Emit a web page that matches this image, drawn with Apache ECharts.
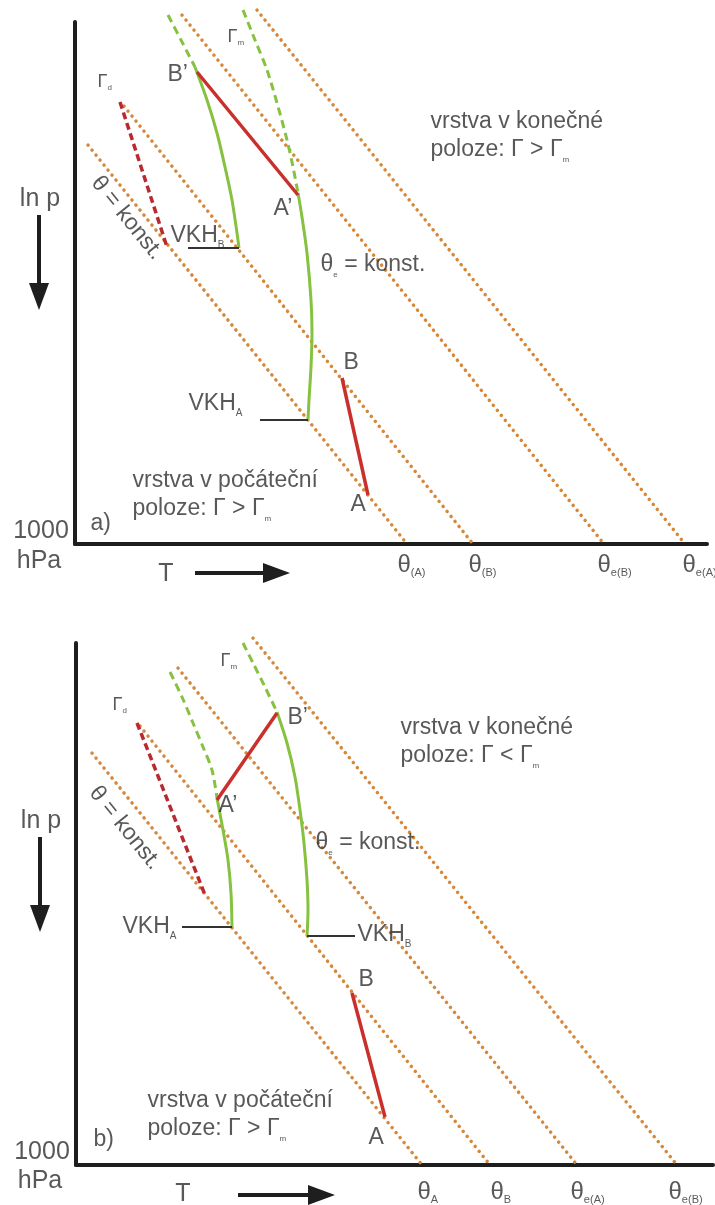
<!DOCTYPE html>
<html>
<head>
<meta charset="utf-8">
<script src="https://cdn.jsdelivr.net/npm/echarts@6/dist/echarts.min.js"></script>
<style>html,body{margin:0;padding:0;background:#fff}#c{width:715px;height:1205px}</style>
</head>
<body>
<div id="c"></div>
<script>
// ===== Panel a) — x: T (arbitrary units), y: ln p above 1000 hPa (arbitrary units) =====
const aIsentropes = [
  [[13, 399], [332, 0]],   // θ(A)
  [[49, 438], [398, 0]],   // θ(B)
  [[107, 529], [529, 0]],  // θe(B)
  [[182, 534], [610, 0]]   // θe(A)
];
const aMoistBDashed = [[93, 529], [106, 504], [120, 477]];
const aMoistBSolid  = [[120, 477], [132, 444], [142, 411], [150, 377], [157, 344], [162, 311], [164, 296]];
const aMoistADashed = [[168, 534], [180, 504], [192, 474], [202, 441], [212, 404], [218, 377], [223, 351]];
const aMoistASolid  = [[223, 351], [227, 327], [232, 291], [236, 244], [237, 211], [236, 177], [234, 144], [233, 124]];
const aParcelTop    = [[122, 472], [223, 349]];   // B' -> A'
const aDryAdiabat   = [[45, 442], [92, 297]];     // Γd
const aParcelBottom = [[267, 166], [293, 49]];    // B -> A
const aVKH = [[[113, 296], [164, 296]], [[185, 124], [233, 124]]];
const aNotes = [
  [92, 469, 'B’'], [198, 335, 'A’'], [268, 181, 'B'], [275, 39, 'A'],
  [22, 462, '{g|Γ}{gs|d}'], [152, 507, '{g|Γ}{gs|m}'],
  [95, 308, 'VKH{v|B}'], [113, 140, 'VKH{v|A}'],
  [245, 279, 'θ{s|e} = konst.'],
  [355, 408, 'vrstva v konečné\npoloze: Γ > Γ{s|m}'],
  [57, 49, 'vrstva v počáteční\npoloze: Γ > Γ{s|m}'],
  [15, 20, 'a)']
];
const aSlanted = [[52, 326, 'θ = konst.']];
const aTickLabels = ['{T|θ}{t|(A)}', '{T|θ}{t|(B)}', '{T|θ}{t|e(B)}', '{T|θ}{t|e(A)}'];
const aTickX = [322, 393, 522, 607];
const aTickY = -21;
const aAxisTitles = [[-34, 13, '1000'], [-36, -17, 'hPa'], [91, -30, 'T'], [-35, 345, 'ln p']];
const aArrowDown  = [[-36, 329], [-36, 234]];   // [start, tip]
const aArrowRight = [[120, -29], [215, -29]];

// ===== Panel b) =====
const bIsentropes = [
  [[16, 412], [346, 0]],   // θA
  [[64, 439], [414, 0]],   // θB
  [[102, 497], [501, 0]],  // θe(A)
  [[177, 527], [601, 0]]   // θe(B)
];
const bMoistADashed = [[94, 493], [106, 468], [117, 442], [127, 418], [136, 395], [141, 367]];
const bMoistASolid  = [[141, 367], [147, 335], [152, 305], [155, 272], [156, 238]];
const bMoistBDashed = [[167, 522], [177, 502], [189, 478], [201, 453]];
const bMoistBSolid  = [[201, 453], [211, 422], [219, 388], [224, 355], [228, 322], [231, 285], [232, 255], [231, 229]];
const bParcelTop    = [[141, 365], [201, 452]];   // A' -> B'
const bDryAdiabat   = [[61, 442], [129, 270]];    // Γd
const bParcelBottom = [[276, 172], [309, 48]];    // B -> A
const bVKH = [[[106, 238], [156, 238]], [[231, 229], [279, 229]]];
const bNotes = [
  [211, 447, 'B’'], [142, 359, 'A’'], [282, 185, 'B'], [292, 27, 'A'],
  [36, 460, '{g|Γ}{gs|d}'], [144, 504, '{g|Γ}{gs|m}'],
  [46, 238, 'VKH{v|A}'], [281, 230, 'VKH{v|B}'],
  [239, 322, 'θ{s|e} = konst.'],
  [324, 423, 'vrstva v konečné\npoloze: Γ < Γ{s|m}'],
  [71, 50, 'vrstva v počáteční\npoloze: Γ > Γ{s|m}'],
  [17, 25, 'b)']
];
const bSlanted = [[49, 337, 'θ = konst.']];
const bTickLabels = ['{T|θ}{t|A}', '{T|θ}{t|B}', '{T|θ}{t|e(A)}', '{T|θ}{t|e(B)}'];
const bTickX = [341, 414, 494, 592];
const bTickY = -27;
const bAxisTitles = [[-34, 13, '1000'], [-36, -16, 'hPa'], [107, -29, 'T'], [-35, 344, 'ln p']];
const bArrowDown  = [[-36, 328], [-36, 233]];
const bArrowRight = [[162, -30], [259, -30]];

// ===== styling / construction =====
const FONT = "'Liberation Sans', Arial, Helvetica, sans-serif";
const TXT = '#2e2e2e';
const AX = '#1e1e1e';
const ORANGE = '#d6873a';
const GREEN = '#86c13f';
const RED = '#c9302c';
const RED2 = '#b82a30';

const tok = (o) => Object.assign({color: TXT, fontFamily: FONT}, o);
const RICH = {
  s:  tok({fontSize: 8,  lineHeight: 12, verticalAlign: 'bottom'}),
  v:  tok({fontSize: 10, lineHeight: 13, verticalAlign: 'bottom'}),
  g:  tok({fontSize: 18, lineHeight: 20}),
  gs: tok({fontSize: 8,  lineHeight: 5,  verticalAlign: 'bottom'}),
  T:  tok({fontSize: 24, lineHeight: 26}),
  t:  tok({fontSize: 11, lineHeight: 13, verticalAlign: 'bottom'})
};

function lineSeries(g, data, style, smooth, z) {
  return {
    type: 'line', xAxisIndex: g, yAxisIndex: g, data: data,
    symbol: 'none', showSymbol: false, clip: false, silent: true,
    smooth: smooth || false, lineStyle: style, z: z || 2
  };
}
function labelSeries(g, items, labelOpt) {
  return {
    type: 'scatter', xAxisIndex: g, yAxisIndex: g, clip: false, silent: true,
    symbolSize: 1, itemStyle: {color: 'rgba(0,0,0,0)'}, z: 20,
    data: items.map(d => ({name: d[2], value: [d[0], d[1]]})),
    label: Object.assign({
      show: true, position: 'right', distance: 0, formatter: p => p.name,
      color: TXT, fontFamily: FONT, fontSize: 23, lineHeight: 28, rich: RICH
    }, labelOpt || {})
  };
}
// arrow drawn through the axes' scales: shaft from start to tip, filled head at tip
function arrowSeries(g, arr) {
  return {
    type: 'custom', xAxisIndex: g, yAxisIndex: g, clip: false, silent: true, z: 6,
    data: [[arr[0][0], arr[0][1], arr[1][0], arr[1][1]]],
    renderItem: function (params, api) {
      const p0 = api.coord([api.value(0), api.value(1)]);
      const p1 = api.coord([api.value(2), api.value(3)]);
      const dx = p1[0] - p0[0], dy = p1[1] - p0[1];
      const L = Math.hypot(dx, dy), ux = dx / L, uy = dy / L;
      const hl = 27, hw = 10;
      const b = [p1[0] - ux * hl, p1[1] - uy * hl];
      return {
        type: 'group',
        children: [
          {type: 'line', shape: {x1: p0[0], y1: p0[1], x2: b[0] + ux * 3, y2: b[1] + uy * 3},
           style: {stroke: AX, lineWidth: 4}},
          {type: 'polygon',
           shape: {points: [[p1[0], p1[1]], [b[0] - uy * hw, b[1] + ux * hw], [b[0] + uy * hw, b[1] - ux * hw]]},
           style: {fill: AX}}
        ]
      };
    }
  };
}

const dotStyle   = {color: ORANGE, width: 3.5, type: [0.1, 6.3], cap: 'round'};
const greenSolid = {color: GREEN, width: 3};
const greenDash  = {color: GREEN, width: 3, type: [8, 5]};
const redSolid   = {color: RED, width: 3.5};
const redDash    = {color: RED2, width: 3.5, type: [7, 4]};
const vkhStyle   = {color: '#333', width: 1.8};

function panel(g, P) {
  const s = [];
  P.isentropes.forEach(l => s.push(lineSeries(g, l, dotStyle, false, 1)));
  s.push(lineSeries(g, P.m1d, greenDash, 0.3, 3));
  s.push(lineSeries(g, P.m1s, greenSolid, 0.3, 3));
  s.push(lineSeries(g, P.m2d, greenDash, 0.3, 3));
  s.push(lineSeries(g, P.m2s, greenSolid, 0.3, 3));
  s.push(lineSeries(g, P.dry, redDash, false, 4));
  s.push(lineSeries(g, P.top, redSolid, false, 5));
  s.push(lineSeries(g, P.bottom, redSolid, false, 5));
  P.vkh.forEach(l => s.push(lineSeries(g, l, vkhStyle, false, 4)));
  s.push(arrowSeries(g, P.down));
  s.push(arrowSeries(g, P.right));
  s.push(labelSeries(g, P.notes));
  s.push(labelSeries(g, P.slanted, {position: 'inside', rotate: -51, align: 'center'}));
  s.push(labelSeries(g, P.ticks.map((t, i) => [P.tickX[i], P.tickY, t])));
  s.push(labelSeries(g, P.titles, {position: 'inside', align: 'center', fontSize: 25}));
  return s;
}

const series = [].concat(
  panel(0, {isentropes: aIsentropes, m1d: aMoistBDashed, m1s: aMoistBSolid, m2d: aMoistADashed, m2s: aMoistASolid,
            dry: aDryAdiabat, top: aParcelTop, bottom: aParcelBottom, vkh: aVKH, down: aArrowDown, right: aArrowRight,
            notes: aNotes, slanted: aSlanted, ticks: aTickLabels, tickX: aTickX, tickY: aTickY, titles: aAxisTitles}),
  panel(1, {isentropes: bIsentropes, m1d: bMoistADashed, m1s: bMoistASolid, m2d: bMoistBDashed, m2s: bMoistBSolid,
            dry: bDryAdiabat, top: bParcelTop, bottom: bParcelBottom, vkh: bVKH, down: bArrowDown, right: bArrowRight,
            notes: bNotes, slanted: bSlanted, ticks: bTickLabels, tickX: bTickX, tickY: bTickY, titles: bAxisTitles})
);

const axisCommon = {
  type: 'value',
  axisLine: {show: true, onZero: false, lineStyle: {color: AX, width: 4}},
  axisTick: {show: false}, axisLabel: {show: false}, splitLine: {show: false}
};
const option = {
  animation: false,
  backgroundColor: '#ffffff',
  grid: [
    {left: 75, top: 22, width: 632, height: 522},
    {left: 76, top: 643, width: 637, height: 522}
  ],
  xAxis: [
    Object.assign({gridIndex: 0, min: 0, max: 632}, axisCommon),
    Object.assign({gridIndex: 1, min: 0, max: 637}, axisCommon)
  ],
  yAxis: [
    Object.assign({gridIndex: 0, min: 0, max: 522}, axisCommon),
    Object.assign({gridIndex: 1, min: 0, max: 522}, axisCommon)
  ],
  series: series
};
const chart = echarts.init(document.getElementById('c'), null, {renderer: 'canvas'});
chart.setOption(option);
</script>
</body>
</html>
